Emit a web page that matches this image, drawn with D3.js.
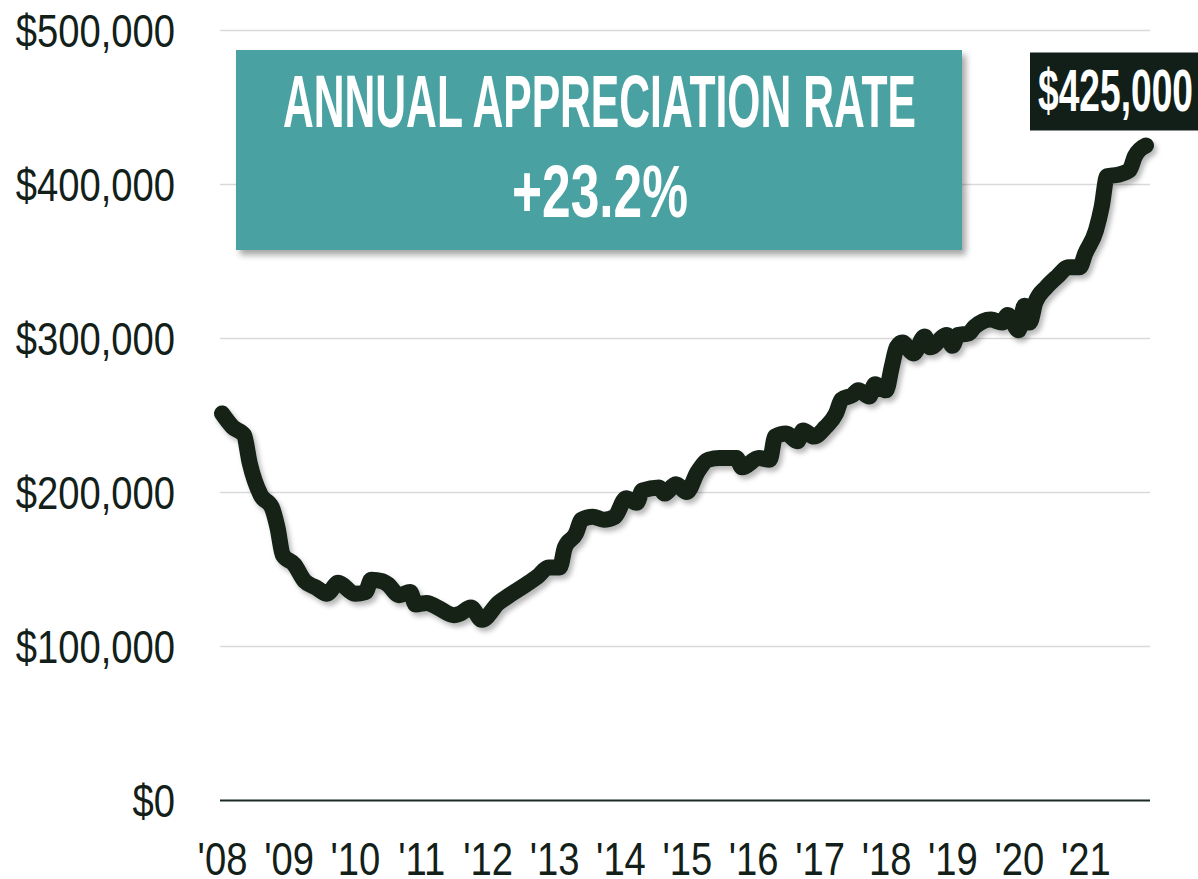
<!DOCTYPE html>
<html>
<head>
<meta charset="utf-8">
<script src="https://cdn.jsdelivr.net/npm/d3@7"></script>
<style>
  html, body { margin: 0; padding: 0; background: #ffffff; }
  svg { display: block; }
</style>
</head>
<body>
<svg id="chart" width="1198" height="879"></svg>
<script>
// ---- Data ----
const months = [
  "2008-01","2008-03","2008-05","2008-06","2008-08","2008-10","2008-11","2008-12",
  "2009-02","2009-04","2009-06","2009-08","2009-10",
  "2010-01","2010-03","2010-04","2010-06","2010-07","2010-09","2010-11","2010-12",
  "2011-02","2011-04","2011-07","2011-08","2011-10","2011-12",
  "2012-03","2012-05","2012-08","2012-10","2012-12",
  "2013-02","2013-03","2013-05","2013-06","2013-08","2013-10","2013-12",
  "2014-02","2014-04","2014-05","2014-08","2014-09","2014-11",
  "2015-01","2015-03","2015-05","2015-07","2015-10","2015-11",
  "2016-02","2016-04","2016-05","2016-07","2016-09","2016-10","2016-12",
  "2017-02","2017-04","2017-05","2017-07","2017-08","2017-10","2017-11",
  "2018-01","2018-02","2018-03","2018-04","2018-06","2018-08","2018-09","2018-12",
  "2019-01","2019-02","2019-04","2019-05","2019-08","2019-10","2019-11",
  "2020-01","2020-02","2020-03","2020-04","2020-06","2020-08","2020-10","2020-12",
  "2021-01","2021-03","2021-04","2021-05","2021-07","2021-09","2021-10","2021-12"
];
const prices = [
  251000,242000,237000,219000,198000,190000,177000,159000,
  153000,142000,138000,134000,141000,
  134000,135000,143000,142000,140000,133000,135000,127000,
  128000,125000,120000,121000,125000,117000,
  128000,133000,140000,145000,151000,
  151000,164000,173000,182000,184000,182000,184000,
  196000,193000,201000,203000,199000,205000,
  200000,213000,221000,222000,222000,216000,
  222000,221000,236000,238000,233000,240000,236000,
  242000,251000,260000,263000,266000,262000,270000,
  266000,281000,294000,297000,290000,301000,294000,302000,
  295000,302000,303000,307000,312000,310000,315000,
  305000,321000,310000,323000,333000,340000,346000,346000,
  355000,370000,385000,405000,406000,409000,418000,425000
];
const yTicks = [0, 100000, 200000, 300000, 400000, 500000];
const yearTicks = ["2008","2009","2010","2011","2012","2013","2014","2015","2016","2017","2018","2019","2020","2021"];
const titleLine1 = "ANNUAL APPRECIATION RATE";
const titleLine2 = "+23.2%";
const endLabel = "$425,000";

// ---- Layout ----
const svg = d3.select("#chart");
const plotLeft = 220, plotRight = 1150, plotTop = 30, plotBottom = 800;
const parse = d3.timeParse("%Y-%m");
const parseYear = d3.timeParse("%Y");
const data = months.map((m, i) => ({ date: parse(m), value: prices[i] }));

const x = d3.scaleTime()
  .domain([parse("2008-01"), parse("2021-12")])
  .range([222, 1146]);
const y = d3.scaleLinear()
  .domain([0, 500000])
  .range([plotBottom, plotTop]);

const ink = "#122019";
const narrow = "'Liberation Sans Narrow', 'Arial Narrow', 'Liberation Sans', Arial, sans-serif";

// condense text horizontally (narrow face is not installed)
function condense(sel, factor) {
  sel.each(function () {
    const w = this.getComputedTextLength();
    d3.select(this).attr("textLength", w * factor).attr("lengthAdjust", "spacingAndGlyphs");
  });
}

// filters
const defs = svg.append("defs");
const f1 = defs.append("filter").attr("id", "lineShadow")
  .attr("x", "-10%").attr("y", "-10%").attr("width", "120%").attr("height", "120%");
f1.append("feDropShadow").attr("dx", 3).attr("dy", 4).attr("stdDeviation", 2.5)
  .attr("flood-color", "#000").attr("flood-opacity", 0.28);
const f2 = defs.append("filter").attr("id", "boxShadow")
  .attr("x", "-10%").attr("y", "-10%").attr("width", "120%").attr("height", "130%");
f2.append("feDropShadow").attr("dx", 4).attr("dy", 5).attr("stdDeviation", 3)
  .attr("flood-color", "#000").attr("flood-opacity", 0.35);

// gridlines + y labels
const yAxis = d3.axisLeft(y)
  .tickValues(yTicks)
  .tickSize(-(plotRight - plotLeft))
  .tickPadding(45)
  .tickFormat(d => "$" + d3.format(",")(d));
const gy = svg.append("g").attr("transform", `translate(${plotLeft},0)`).call(yAxis);
gy.select(".domain").remove();
gy.selectAll(".tick line")
  .attr("stroke", d => d === 0 ? "#1b2a23" : "#d9d9d9")
  .attr("stroke-width", d => d === 0 ? 2 : 1.6);
gy.selectAll(".tick text")
  .attr("font-family", narrow)
  .attr("font-size", 46)
  .attr("fill", ink)
  .attr("dy", "0.35em")
  .call(condense, 0.83);

// x labels
const xAxis = d3.axisBottom(x)
  .tickValues(yearTicks.map(parseYear))
  .tickSize(0)
  .tickPadding(0)
  .tickFormat(d => "'" + d3.timeFormat("%y")(d));
const gx = svg.append("g").attr("transform", `translate(0,${plotBottom})`).call(xAxis);
gx.select(".domain").remove();
gx.selectAll(".tick text")
  .attr("font-family", narrow)
  .attr("font-size", 46)
  .attr("fill", ink)
  .attr("dy", 0)
  .attr("y", 75)
  .call(condense, 0.83);

// line
const line = d3.line()
  .x(d => x(d.date))
  .y(d => y(d.value))
  .curve(d3.curveMonotoneX);
svg.append("path")
  .datum(data)
  .attr("d", line)
  .attr("fill", "none")
  .attr("stroke", ink)
  .attr("stroke-width", 16)
  .attr("stroke-linecap", "round")
  .attr("stroke-linejoin", "round")
  .attr("filter", "url(#lineShadow)");

// title box
const box = svg.append("g");
box.append("rect")
  .attr("x", 236).attr("y", 50).attr("width", 726).attr("height", 200)
  .attr("fill", "#49a1a2")
  .attr("filter", "url(#boxShadow)");
box.append("text")
  .attr("x", 283).attr("y", 127)
  .attr("font-family", narrow).attr("font-weight", "bold")
  .attr("font-size", 75).attr("fill", "#ffffff")
  .attr("textLength", 633).attr("lengthAdjust", "spacingAndGlyphs")
  .text(titleLine1);
box.append("text")
  .attr("x", 512).attr("y", 217)
  .attr("font-family", narrow).attr("font-weight", "bold")
  .attr("font-size", 75).attr("fill", "#ffffff")
  .attr("textLength", 176).attr("lengthAdjust", "spacingAndGlyphs")
  .text(titleLine2);

// end label
const last = data[data.length - 1];
const lx = x(last.date), ly = y(last.value);
const lab = svg.append("g");
lab.append("rect")
  .attr("x", lx - 116).attr("y", ly - 93).attr("width", 170).attr("height", 78)
  .attr("fill", "#111f18");
lab.append("text")
  .attr("x", lx - 108).attr("y", ly - 35)
  .attr("font-family", narrow).attr("font-weight", "bold")
  .attr("font-size", 59).attr("fill", "#ffffff")
  .attr("textLength", 155).attr("lengthAdjust", "spacingAndGlyphs")
  .text(endLabel);
</script>
</body>
</html>
